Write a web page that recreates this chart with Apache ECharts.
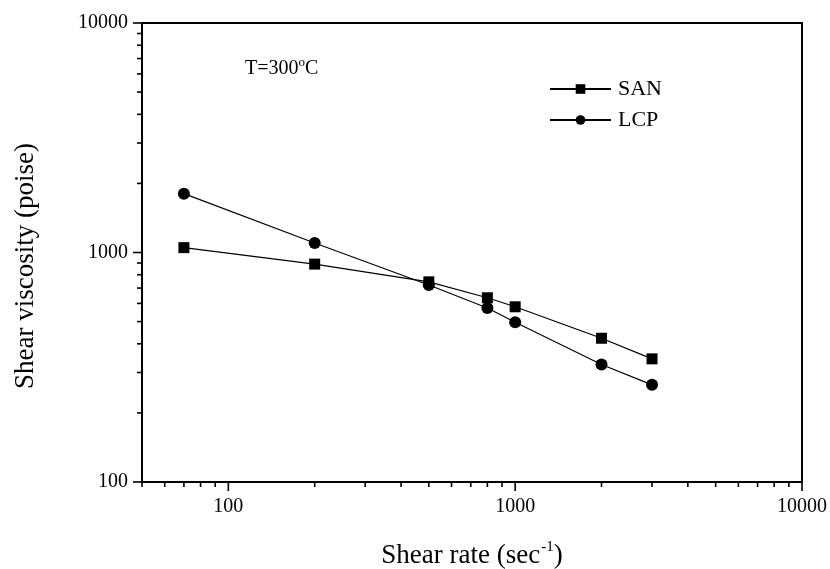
<!DOCTYPE html>
<html>
<head>
<meta charset="utf-8">
<script src="https://cdn.jsdelivr.net/npm/echarts@6/dist/echarts.min.js"></script>
<style>
  html, body { margin: 0; padding: 0; background: #fff; }
  #chart { width: 830px; height: 569px; }
</style>
</head>
<body>
<div id="chart"></div>
<script>
// Shear rate (1/s) and measured viscosity (poise) at 300 °C
const shearRate    = [70, 200, 500, 800, 1000, 2000, 3000];
const sanViscosity = [1050, 890, 745, 635, 580, 423, 344];
const lcpViscosity = [1805, 1100, 722, 573, 497, 325, 265];

// Axis ranges and tick values (log scales)
const xRange = [50, 10000];
const yRange = [100, 10000];
const xMajorTicks = [100, 1000, 10000];
const xMinorTicks = [50, 60, 70, 80, 90, 200, 300, 400, 500, 600, 700, 800, 900,
                     2000, 3000, 4000, 5000, 6000, 7000, 8000, 9000];
const yMajorTicks = [100, 1000, 10000];
const yMinorTicks = [200, 300, 400, 500, 600, 700, 800, 900,
                     2000, 3000, 4000, 5000, 6000, 7000, 8000, 9000];

const FONT = '"Liberation Serif", "Times New Roman", serif';
const MAJOR_LEN = 9, MINOR_LEN = 5;

function pairs(xs, ys) { return xs.map((x, i) => [x, ys[i]]); }

// Tick marks along the bottom axis, drawn outward (downward)
function xTickRenderer(len) {
  return function (params, api) {
    const p = api.coord([api.value(0), yRange[0]]);
    return { type: 'line', shape: { x1: p[0], y1: p[1], x2: p[0], y2: p[1] + len },
             style: { stroke: '#000', lineWidth: 1.6 } };
  };
}
// Tick marks along the left axis, drawn outward (leftward)
function yTickRenderer(len) {
  return function (params, api) {
    const p = api.coord([xRange[0], api.value(1)]);
    return { type: 'line', shape: { x1: p[0], y1: p[1], x2: p[0] - len, y2: p[1] },
             style: { stroke: '#000', lineWidth: 1.6 } };
  };
}

const chart = echarts.init(document.getElementById('chart'), null, { renderer: 'canvas' });

// Only label whole decades
const logLabel = v => {
  const e = Math.log10(v);
  return Math.abs(e - Math.round(e)) < 1e-6 ? String(Math.round(v)) : '';
};

chart.setOption({
  animation: false,
  backgroundColor: '#fff',
  grid: { left: 142, right: 28, top: 23, bottom: 87, show: true,
          outerBoundsMode: 'none', containLabel: false,
          borderColor: '#000', borderWidth: 2, backgroundColor: 'transparent' },
  xAxis: {
    type: 'log', logBase: 10, min: xRange[0], max: xRange[1],
    axisLine: { lineStyle: { color: '#000', width: 2 } },
    axisTick: { show: false },
    splitLine: { show: false },
    axisLabel: { color: '#000', fontFamily: FONT, fontSize: 20, margin: 15, formatter: logLabel },
    name: '{a|Shear rate (sec}{s|-1}{a|)}',
    nameLocation: 'middle',
    nameGap: 58,
    nameTextStyle: {
      rich: {
        a: { fontFamily: FONT, fontSize: 27, color: '#000' },
        s: { fontFamily: FONT, fontSize: 15, color: '#000', padding: [0, 0, 16, 1] }
      }
    }
  },
  yAxis: {
    type: 'log', logBase: 10, min: yRange[0], max: yRange[1],
    axisLine: { lineStyle: { color: '#000', width: 2 } },
    axisTick: { show: false },
    splitLine: { show: false },
    axisLabel: { color: '#000', fontFamily: FONT, fontSize: 20, margin: 14, formatter: logLabel }
  },
  legend: {
    left: 549, top: 78, orient: 'vertical', padding: 0,
    itemWidth: 61, itemHeight: 12, itemGap: 9,
    textStyle: { fontFamily: FONT, fontSize: 22, color: '#000', padding: [0, 0, 0, 2] },
    data: ['SAN', 'LCP']
  },
  graphic: [
    {
      type: 'text', left: 12, top: 143,
      rotation: Math.PI / 2,
      style: { text: 'Shear viscosity (poise)', font: '27px ' + FONT, fill: '#000' }
    },
    {
      type: 'text', left: 245, top: 56,
      style: {
        text: '{a|T=300}{s|o}{a|C}',
        rich: {
          a: { fontFamily: FONT, fontSize: 20, fill: '#000' },
          s: { fontFamily: FONT, fontSize: 13, fill: '#000', padding: [0, 0, 12, 0] }
        }
      }
    }
  ],
  series: [
    {
      name: 'SAN', type: 'line', data: pairs(shearRate, sanViscosity),
      symbol: 'rect', symbolSize: 11,
      itemStyle: { color: '#000' },
      lineStyle: { color: '#000', width: 1.2 }
    },
    {
      name: 'LCP', type: 'line', data: pairs(shearRate, lcpViscosity),
      symbol: 'circle', symbolSize: 12,
      itemStyle: { color: '#000' },
      lineStyle: { color: '#000', width: 1.2 }
    },
    { type: 'custom', renderItem: xTickRenderer(MAJOR_LEN), data: xMajorTicks.map(v => [v, yRange[0]]), silent: true, clip: false, z: 5 },
    { type: 'custom', renderItem: xTickRenderer(MINOR_LEN), data: xMinorTicks.map(v => [v, yRange[0]]), silent: true, clip: false, z: 5 },
    { type: 'custom', renderItem: yTickRenderer(MAJOR_LEN), data: yMajorTicks.map(v => [xRange[0], v]), silent: true, clip: false, z: 5 },
    { type: 'custom', renderItem: yTickRenderer(MINOR_LEN), data: yMinorTicks.map(v => [xRange[0], v]), silent: true, clip: false, z: 5 }
  ]
});
</script>
</body>
</html>
